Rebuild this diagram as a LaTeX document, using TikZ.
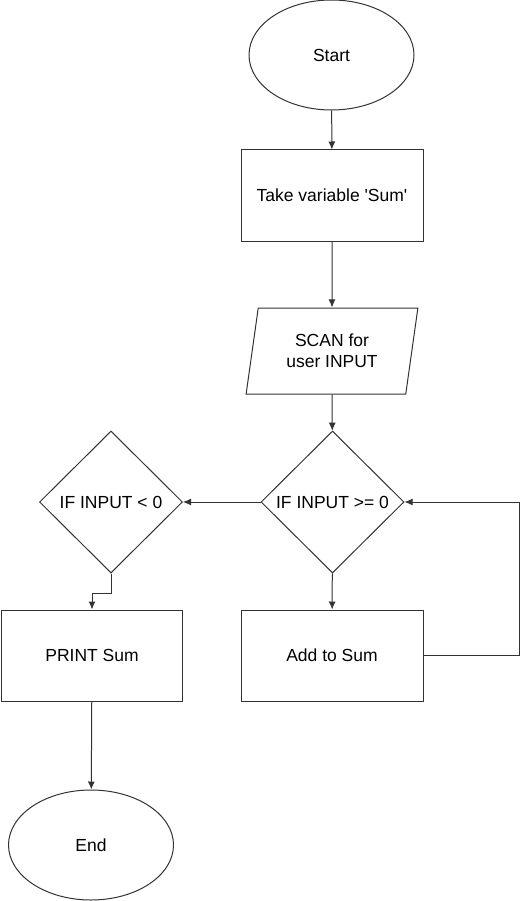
\documentclass[tikz,border=0pt]{standalone}
\usepackage{fontspec}
\setmainfont{Liberation Sans}
\usetikzlibrary{shapes.geometric,arrows.meta}
\begin{document}
\begin{tikzpicture}[x=1pt,y=-1pt,
  base/.style={draw=black!80, line width=1pt, font=\fontsize{17.5}{21}\selectfont, inner sep=0pt, align=center},
  term/.style={base, ellipse, minimum width=165pt, minimum height=110pt},
  proc/.style={base, rectangle, minimum width=182pt, minimum height=91pt},
  io/.style={base, trapezium, trapezium left angle=77.5, trapezium right angle=102.5, trapezium stretches=true, minimum width=172pt, minimum height=86pt},
  dec/.style={base, diamond, minimum width=143pt, minimum height=142pt},
  conn/.style={draw=black!80, line width=1pt, -{Latex[length=8pt,width=7pt]}},
  line/.style={draw=black!80, line width=1pt}]
\useasboundingbox (0,0) rectangle (529,901);
\node[term] (start) at (331.5,55) {Start};
\node[proc] (take) at (332,195.5) {Take variable \textquotesingle Sum\textquotesingle};
\node[io] (scan) at (332,351) {SCAN for\\user INPUT};
\node[dec] (d1) at (332.5,502) {IF INPUT >= 0};
\node[dec] (d2) at (111,502) {IF INPUT < 0};
\node[proc] (add) at (332,655.5) {Add to Sum};
\node[proc, minimum width=181pt] (print) at (92,655.5) {PRINT Sum};
\node[term] (end) at (91,845) {End};
\path[conn] (start) -- (take);
\path[conn] (take) -- (scan);
\path[conn] (scan) -- (d1);
\path[conn] (d1) -- (add);
\path[conn] (d1.west) -- (d2.east);
\path[conn] (d2.south) -- ++(0,20) -| (print.north);
\path[conn] (add.east) -- ++(96,0) |- (d1.east);
\path[conn] (print) -- (end);
\end{tikzpicture}
\end{document}
